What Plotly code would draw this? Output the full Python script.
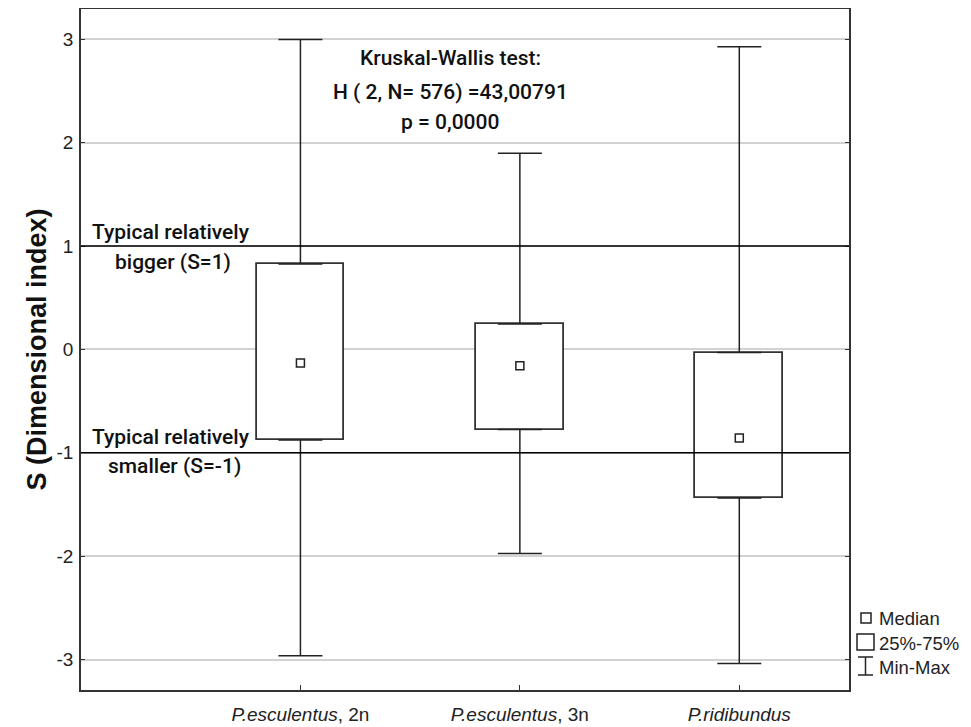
import plotly.graph_objects as go

# ---- data ----
categories = ["<i>P.esculentus</i>, 2n", "<i>P.esculentus</i>, 3n", "<i>P.ridibundus</i>"]
cat_pos = [1, 2, 3]
medians = [-0.132, -0.158, -0.857]
q1 = [-0.876, -0.775, -1.437]
q3 = [0.825, 0.245, -0.030]
mins = [-2.963, -1.975, -3.039]
maxs = [2.997, 1.898, 2.929]
y_ticks = [-3, -2, -1, 0, 1, 2, 3]
y_ticktext = ["-3", "-2", "-1", "0", "1", "2", "3"]
ref_levels = [1, -1]
stat_lines = ["Kruskal-Wallis test:", "H ( 2, N= 576) =43,00791", "p = 0,0000"]
legend_labels = ["Median", "25%-75%", "Min-Max"]

FONT = "Liberation Sans, Arial, sans-serif"
ANN_FONT = "Roboto, Liberation Sans, sans-serif"
INK = "#222222"

# page body has an 8px margin: figure sits at (8, 8)
W, H = 955, 719
ML, MT = 73, 1
PLOT_W, PLOT_H = 768, 681
MR = W - ML - PLOT_W
MB = H - MT - PLOT_H

fig = go.Figure()

# boxes (25%-75%)
fig.add_trace(go.Bar(
    x=cat_pos, y=[b - a for a, b in zip(q1, q3)], base=q1, width=0.4,
    marker=dict(color="white", line=dict(color="#333333", width=1.8)),
    showlegend=False, hoverinfo="skip"))

# upper whiskers
fig.add_trace(go.Scatter(
    x=cat_pos, y=q3, mode="markers", marker=dict(size=1, color="rgba(0,0,0,0)"),
    error_y=dict(type="data", symmetric=False,
                 array=[m - q for m, q in zip(maxs, q3)], arrayminus=[0, 0, 0],
                 width=22, thickness=1.5, color=INK),
    showlegend=False, hoverinfo="skip"))
# lower whiskers
fig.add_trace(go.Scatter(
    x=cat_pos, y=q1, mode="markers", marker=dict(size=1, color="rgba(0,0,0,0)"),
    error_y=dict(type="data", symmetric=False,
                 array=[0, 0, 0], arrayminus=[q - m for m, q in zip(mins, q1)],
                 width=22, thickness=1.5, color=INK),
    showlegend=False, hoverinfo="skip"))

# medians
fig.add_trace(go.Scatter(
    x=cat_pos, y=medians, mode="markers",
    marker=dict(symbol="square", size=8, color="white", line=dict(color=INK, width=1.5)),
    showlegend=False))

# reference lines S=1 and S=-1
for lv in ref_levels:
    fig.add_shape(type="line", xref="x", yref="y", x0=0, x1=3.5, y0=lv, y1=lv,
                  line=dict(color="black", width=1.5), layer="above")

# statistics text
stat_y = [2.819, 2.49, 2.20]
for txt, yy in zip(stat_lines, stat_y):
    fig.add_annotation(x=1.682, y=yy, xref="x", yref="y", text=txt, showarrow=False,
                       font=dict(family=ANN_FONT, size=21, color="#111111", weight=500),
                       xanchor="center", yanchor="middle")

# reference line labels
ref_texts = [("Typical relatively", 0.41, 1.136), ("bigger (S=1)", 0.42, 0.846),
             ("Typical relatively", 0.41, -0.846), ("smaller (S=-1)", 0.424, -1.126)]
for txt, xx, yy in ref_texts:
    fig.add_annotation(x=xx, y=yy, xref="x", yref="y", text=txt, showarrow=False,
                       font=dict(family=ANN_FONT, size=21, color="#111111", weight=500),
                       xanchor="center", yanchor="middle")

# manual legend (paper coordinates, window pixels -> paper)
def px2x(px):
    return (px - 8 - ML) / PLOT_W

def px2y(py):
    return (MT + 8 + PLOT_H - py) / PLOT_H

fig.add_shape(type="rect", xref="paper", yref="paper",
              x0=px2x(861), x1=px2x(871), y0=px2y(623), y1=px2y(613),
              line=dict(color=INK, width=1.5), fillcolor="white")
fig.add_shape(type="rect", xref="paper", yref="paper",
              x0=px2x(857), x1=px2x(874), y0=px2y(650), y1=px2y(634),
              line=dict(color=INK, width=1.5), fillcolor="white")
fig.add_shape(type="line", xref="paper", yref="paper",
              x0=px2x(865.5), x1=px2x(865.5), y0=px2y(675), y1=px2y(657),
              line=dict(color=INK, width=1.5))
fig.add_shape(type="line", xref="paper", yref="paper",
              x0=px2x(858), x1=px2x(873), y0=px2y(657), y1=px2y(657),
              line=dict(color=INK, width=1.5))
fig.add_shape(type="line", xref="paper", yref="paper",
              x0=px2x(858), x1=px2x(873), y0=px2y(675), y1=px2y(675),
              line=dict(color=INK, width=1.5))
for lab, py in zip(legend_labels, [618, 643, 667]):
    fig.add_annotation(x=px2x(877), y=px2y(py), xref="paper", yref="paper", text=lab,
                       showarrow=False, xanchor="left", yanchor="middle",
                       font=dict(family=FONT, size=18.5, color=INK))

fig.update_layout(
    width=W, height=H,
    margin=dict(l=ML, r=MR, t=MT, b=MB, autoexpand=False),
    plot_bgcolor="white", paper_bgcolor="white",
    showlegend=False, bargap=0,
    font=dict(family=FONT, color=INK),
    xaxis=dict(range=[0, 3.5], tickvals=cat_pos, ticktext=categories,
               showgrid=False, zeroline=False, ticks="inside", ticklen=5,
               tickcolor="#333333", showline=True, linecolor="#333333", linewidth=1.5,
               mirror=True, automargin=False, ticklabelstandoff=6,
               tickfont=dict(family=FONT, size=19, color=INK)),
    yaxis=dict(range=[-3.295, 3.293], tickvals=y_ticks, ticktext=y_ticktext,
               showgrid=True, gridcolor="#d2d2d2", gridwidth=1.5, zeroline=False,
               ticks="inside", ticklen=4, tickcolor="#333333",
               showline=True, linecolor="#333333", linewidth=1.5, mirror="ticks",
               automargin=False, ticklabelstandoff=2,
               tickfont=dict(family=FONT, size=19, color=INK),
               title=dict(text="<b>S (Dimensional index)</b>", standoff=2,
                          font=dict(family=FONT, size=27, color="#111111"))),
)

fig.write_html("out.html")
